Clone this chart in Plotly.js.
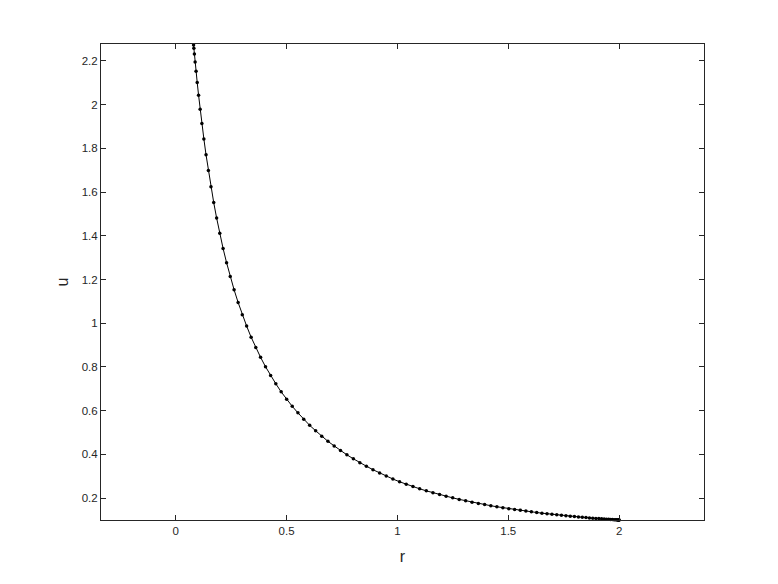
<!DOCTYPE html>
<html>
<head>
<meta charset="utf-8">
<script src="https://cdn.plot.ly/plotly-3.0.1.min.js"></script>
<style>html,body{margin:0;padding:0;background:#fff;}#plot{width:778px;height:584px;}</style>
</head>
<body>
<div id="plot"></div>
<script>
// radial coordinate (Chebyshev-like grid)
const r = [0.0800,0.0805,0.0819,0.0843,0.0876,0.0918,0.0970,0.1031,0.1102,0.1181,
0.1270,0.1368,0.1474,0.1590,0.1714,0.1846,0.1987,0.2137,0.2294,0.2460,
0.2633,0.2815,0.3003,0.3199,0.3402,0.3612,0.3828,0.4051,0.4281,0.4516,
0.4757,0.5004,0.5256,0.5513,0.5775,0.6042,0.6313,0.6587,0.6866,0.7148,
0.7433,0.7722,0.8013,0.8306,0.8601,0.8898,0.9197,0.9497,0.9797,1.0098,
1.0400,1.0702,1.1003,1.1303,1.1603,1.1902,1.2199,1.2494,1.2787,1.3078,
1.3367,1.3652,1.3934,1.4213,1.4487,1.4758,1.5025,1.5287,1.5544,1.5796,
1.6043,1.6284,1.6519,1.6749,1.6972,1.7188,1.7398,1.7601,1.7797,1.7985,
1.8167,1.8340,1.8506,1.8663,1.8813,1.8954,1.9086,1.9210,1.9326,1.9432,
1.9530,1.9619,1.9698,1.9769,1.9830,1.9882,1.9924,1.9957,1.9981,1.9995,2.0000];
// solution values
const u = [2.278,2.272,2.257,2.231,2.195,2.152,2.101,2.043,1.979,1.913,
1.843,1.770,1.698,1.624,1.552,1.481,1.411,1.342,1.277,1.214,
1.153,1.095,1.039,0.987,0.936,0.889,0.844,0.801,0.761,0.723,
0.686,0.652,0.620,0.590,0.561,0.533,0.508,0.483,0.460,0.439,
0.418,0.398,0.380,0.362,0.346,0.330,0.315,0.3008,0.2874,0.2748,
0.2633,0.2528,0.2427,0.2334,0.2246,0.2163,0.2085,0.2012,0.1943,0.1877,
0.1817,0.1759,0.1705,0.1653,0.1606,0.1561,0.1518,0.1478,0.1441,0.1406,
0.1373,0.1342,0.1313,0.1286,0.1261,0.1237,0.1214,0.1194,0.1175,0.1157,
0.1140,0.1125,0.1111,0.1097,0.1085,0.1073,0.1063,0.1054,0.1045,0.1037,
0.1030,0.1024,0.1019,0.1014,0.1010,0.1006,0.1004,0.1002,0.1001,0.1000,0.1000];

const xTicks = [0, 0.5, 1, 1.5, 2];
const xTickText = ['0', '0.5', '1', '1.5', '2'];
const yTicks = [0.2, 0.4, 0.6, 0.8, 1, 1.2, 1.4, 1.6, 1.8, 2, 2.2];
const yTickText = ['0.2', '0.4', '0.6', '0.8', '1', '1.2', '1.4', '1.6', '1.8', '2', '2.2'];

const axisColor = '#262626';
const fontFam = '"Liberation Sans", Arial, Helvetica, sans-serif';

const trace = {
  x: r, y: u, type: 'scatter', mode: 'lines+markers',
  line: {color: '#000', width: 1},
  marker: {color: '#000', size: 3.5},
  cliponaxis: false,
  hoverinfo: 'skip'
};

const layout = {
  width: 778, height: 584,
  margin: {l: 101, r: 74, t: 44, b: 64, pad: 0},
  paper_bgcolor: '#fff', plot_bgcolor: '#fff',
  showlegend: false,
  font: {family: fontFam, color: axisColor, size: 11},
  xaxis: {
    range: [-0.337, 2.383],
    tickvals: xTicks, ticktext: xTickText,
    ticks: 'inside', ticklen: 5, tickwidth: 1, tickcolor: axisColor,
    showline: true, linecolor: axisColor, linewidth: 1, mirror: 'ticks',
    showgrid: false, zeroline: false,
    automargin: true,
    tickfont: {family: fontFam, size: 11.5, color: axisColor},
    title: {text: 'r', font: {family: fontFam, size: 16, color: axisColor}, standoff: 15}
  },
  yaxis: {
    range: [0.1, 2.277],
    tickvals: yTicks, ticktext: yTickText,
    ticks: 'inside', ticklen: 5, tickwidth: 1, tickcolor: axisColor,
    showline: true, linecolor: axisColor, linewidth: 1, mirror: 'ticks',
    showgrid: false, zeroline: false,
    automargin: true,
    tickfont: {family: fontFam, size: 11.5, color: axisColor},
    title: {text: 'u', font: {family: fontFam, size: 16, color: axisColor}, standoff: 9}
  }
};

Plotly.newPlot('plot', [trace], layout, {displayModeBar: false, staticPlot: true});
</script>
</body>
</html>
